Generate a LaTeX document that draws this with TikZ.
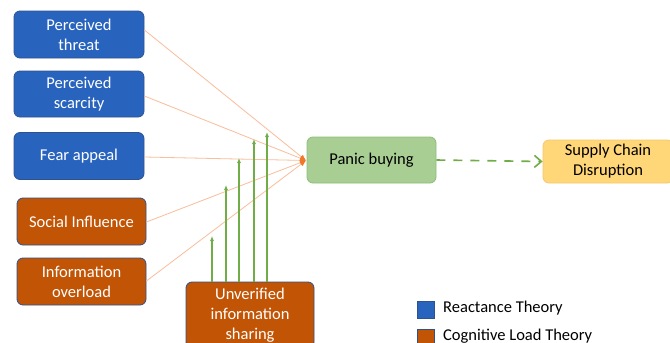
\documentclass[tikz,border=0pt]{standalone}
\usepackage{fontspec}
\setmainfont{Carlito}
\usetikzlibrary{arrows.meta}
\definecolor{rblue}{RGB}{40,100,190}
\definecolor{rborder}{RGB}{47,82,143}
\definecolor{corange}{RGB}{193,84,5}
\definecolor{pgreen}{RGB}{168,206,148}
\definecolor{pgborder}{RGB}{140,190,120}
\definecolor{sgold}{RGB}{255,214,120}
\definecolor{sborder}{RGB}{245,200,110}
\definecolor{lorange}{RGB}{249,190,155}
\definecolor{torange}{RGB}{240,120,40}
\definecolor{agreen}{RGB}{112,173,71}
\tikzset{
  box/.style={rounded corners=6pt, align=center, inner sep=0pt,
    font=\fontsize{16.5}{20}\selectfont, line width=0.8pt},
  rbox/.style={box, fill=rblue, draw=rborder, text=white},
  cbox/.style={box, fill=corange, draw=rborder, text=white},
  infl/.style={lorange, line width=0.8pt, -{Latex[length=6pt,width=5pt,color=torange]}},
  up/.style={agreen, line width=1.3pt, -{Latex[length=5pt,width=4pt]}},
  legtext/.style={anchor=west, font=\fontsize{16.5}{20}\selectfont, inner sep=0pt},
}
\begin{document}
\begin{tikzpicture}[x=1pt,y=-1pt]
\clip (0,0) rectangle (670,343);
\fill[white] (0,0) rectangle (670,343);
\node[rbox, minimum width=130pt, minimum height=47pt] (threat) at (79,34.5) {Perceived\\threat};
\node[rbox, minimum width=130pt, minimum height=46pt] (scarcity) at (79,94) {Perceived\\scarcity};
\node[rbox, minimum width=130pt, minimum height=47pt] (fear) at (79,156) {Fear appeal};
\node[cbox, minimum width=129pt, minimum height=47pt] (social) at (81.5,221.5) {Social Influence};
\node[cbox, minimum width=129pt, minimum height=47pt] (overload) at (81.5,281.5) {Information\\overload};
\node[cbox, minimum width=128pt, minimum height=66pt] (unver) at (250,315) {Unverified\\information\\sharing};
\node[box, fill=pgreen, draw=pgborder, minimum width=129pt, minimum height=46pt] (panic) at (371.5,160) {Panic buying};
\node[box, fill=sgold, draw=sborder, minimum width=130pt, minimum height=43pt] (supply) at (608,161.5) {Supply Chain\\Disruption};
\coordinate (conv) at (306,160.5);
\draw[infl] (threat.east |- 0,30) -- (conv);
\draw[infl] (scarcity.east |- 0,96) -- (conv);
\draw[infl] (fear.east |- 0,157) -- (conv);
\draw[infl] (social.east |- 0,222) -- (conv);
\draw[infl] (overload.east |- 0,281) -- (conv);
\coordinate (t1) at (212,236);
\coordinate (t2) at (226,185);
\coordinate (t3) at (239,158);
\coordinate (t4) at (254,139);
\coordinate (t5) at (267,132);
\foreach \i in {1,...,5} {
  \draw[up] (unver.north -| t\i) -- (t\i);
}
\draw[agreen, line width=1.6pt, dash pattern=on 9pt off 8pt, -{Straight Barb[length=7pt,width=12pt]}] (panic.east) -- (supply.west);
\node[fill=rblue, draw=rborder, line width=0.6pt, minimum size=17pt, inner sep=0pt] (lgblue) at (426,309.5) {};
\node[legtext] (lgbluet) at (443,308) {Reactance Theory};
\node[fill=corange, draw=rborder, line width=0.6pt, minimum size=17pt, inner sep=0pt] (lgorange) at (426,337.5) {};
\node[legtext] (lgoranget) at (443,336) {Cognitive Load Theory};
\end{tikzpicture}
\end{document}
